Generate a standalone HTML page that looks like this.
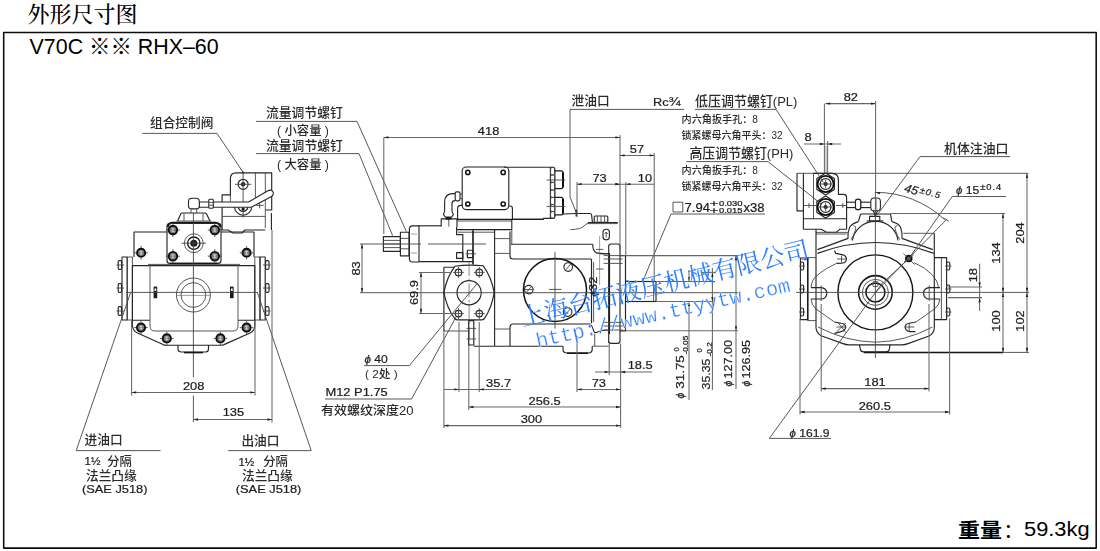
<!DOCTYPE html>
<html lang="zh-CN"><head><meta charset="utf-8"><title>外形尺寸图 V70C RHX-60</title>
<style>
html,body{margin:0;padding:0;background:#fff}
body{width:1100px;height:551px;overflow:hidden}
svg{display:block}
text{font-family:"Liberation Sans","Noto Sans CJK SC",sans-serif;fill:#1a1a1a}
.n{fill:#1c1c1c;stroke:#1c1c1c;stroke-width:.22}
.k{fill:#2a2a2a;font-family:"Liberation Sans","Noto Sans CJK SC",sans-serif;font-weight:500}
.ttl{font-family:"Liberation Serif","Noto Serif CJK SC",serif;fill:#000;font-weight:500}
.wt{font-family:"Liberation Sans","Noto Sans CJK SC",sans-serif;fill:#000}
.wm{font-family:"Liberation Serif","Noto Serif CJK SC",serif;fill:#2f80ff;font-weight:400}
.wm2{font-family:"Liberation Mono",monospace;fill:#2f80ff;stroke:#fff;stroke-width:.3}
line,polyline,polygon,path,rect,circle{fill:none;stroke:#2b2b2b;stroke-width:.9;stroke-linecap:butt;stroke-linejoin:round}
.t{stroke:#454545;stroke-width:.9}
.d{stroke:#666964;stroke-width:1.05}
.c{stroke:#555;stroke-width:.7;stroke-dasharray:14 2.5 2.5 2.5}
.o{stroke:#262626;stroke-width:1.15}
.h{stroke:#151515;stroke-width:1.55}
.hh{stroke:#111;stroke-width:1.9}
.h2{stroke:#181818;stroke-width:1.4}
.o2{stroke:#1c1c1c;stroke-width:1.35}
.fr{stroke:#0c0c0c;stroke-width:1.55}
.a{fill:#222;stroke:none}
.bo{fill:#777;stroke:#111;stroke-width:1.9}
.bx{stroke:#e6e6e6;stroke-width:.7}
.bi{fill:#bdbdbd;stroke:none}
.bk{fill:#1a1a1a;stroke:none}
.wf{fill:#fff}
.g{stroke:#777;stroke-width:.7}
</style></head>
<body>
<svg width="1100" height="551" viewBox="0 0 1100 551">
<defs><filter id="soft" x="0" y="0" width="1100" height="551" filterUnits="userSpaceOnUse"><feGaussianBlur stdDeviation="0.32"/></filter></defs>
<rect x="0" y="0" width="1100" height="551" style="fill:#fff;stroke:none"/>
<g id="frame">
<rect class="fr" x="3.7" y="32.4" width="1092.5" height="515.7"/>
<text class="ttl" transform="translate(27.6 22.2)" font-size="22">外形尺寸图</text>
<text class="wt" transform="translate(29.6 53.6)" font-size="21.4">V70C ※※ RHX–60</text>
<text class="wt" transform="translate(958 537.8) scale(1.08 1)" font-size="20.4" font-weight="700">重量</text>
<text class="wt" transform="translate(1003.2 537.8)" font-size="20.4">：</text>
<text class="wt" transform="translate(1024 536.4) scale(1.12 1)" font-size="19.5">59.3kg</text>
</g>
<g id="left-view" filter="url(#soft)">
<path class="o" d="M222.1,230 V194.8 H230.4 V178.6 Q230.4,172.8 236.2,172.8 H271.7 V210 H265.3"/>
<line class="t" x1="255.4" y1="172.8" x2="255.4" y2="201"/>
<line class="t" x1="265.3" y1="172.8" x2="265.3" y2="228"/>
<line class="t" x1="222.1" y1="216.4" x2="265.3" y2="216.4"/>
<path class="o" d="M222.1,230 H228 L233,233 H242 L245,230 H265.3"/>
<line class="t" x1="230.4" y1="194.8" x2="230.4" y2="201.6"/>
<line class="o" x1="271.4" y1="213" x2="271.4" y2="230"/>
<circle class="o" cx="243.1" cy="184.3" r="5"/>
<circle class="bk" cx="243.1" cy="184.3" r="2.2"/>
<line class="t" x1="235" y1="184.3" x2="251.4" y2="184.3"/>
<line class="t" x1="243.1" y1="172.8" x2="243.1" y2="217.4"/>
<path class="o" d="M234.5,206.6 A8.6,8.6 0 0 0 251.7,206.6"/>
<path class="o" d="M238.3,206.6 A4.8,4.8 0 0 0 247.9,206.6"/>
<circle class="bk" cx="243.1" cy="209" r="1.6"/>
<line class="t" x1="256.4" y1="205.4" x2="263.6" y2="205.4"/>
<line class="t" x1="259.6" y1="202.4" x2="259.6" y2="208.4"/>
<path d="M199.3,202 H248.6 L268,190.8 Q271.6,189 273,192 Q274.2,195 271,196.8 L251.4,207.2 H199.3 Z" style="fill:#fff;stroke:#262626;stroke-width:1.1"/>
<rect x="208.8" y="199.3" width="4.5" height="8.9" rx="1" style="fill:#fff;stroke:#262626;stroke-width:1.1"/>
<line class="t" x1="208.8" y1="202.4" x2="213.3" y2="202.4"/>
<line class="t" x1="208.8" y1="205.2" x2="213.3" y2="205.2"/>
<rect x="188.5" y="198.3" width="10.8" height="10.6" rx="3.2" style="fill:#fff;stroke:#262626;stroke-width:1.1"/>
<line class="t" x1="191" y1="208.9" x2="191" y2="213"/>
<line class="t" x1="196.7" y1="208.9" x2="196.7" y2="213"/>
<path class="o" d="M177.7,220.9 L180.9,213.6 Q181.2,213 182.4,213 H204.8 Q206,213 206.3,213.6 L210,220.9"/>
<line class="t" x1="184" y1="213.6" x2="184" y2="220.9"/>
<line class="t" x1="203" y1="213.6" x2="203" y2="220.9"/>
<line class="t" x1="176.4" y1="221" x2="211.4" y2="221"/>
<path class="hh" d="M167.6,227 Q168.4,222.8 173,222.8 H215 Q219.4,222.8 220.4,227"/>
<rect class="o" x="167" y="223.4" width="54" height="40" rx="3"/>
<line class="h" x1="170" y1="263.4" x2="218" y2="263.4"/>
<circle class="bo" cx="172.9" cy="230" r="4.3"/>
<line class="bx" x1="171.4" y1="228.8" x2="174.4" y2="228.8"/>
<line class="bx" x1="171.4" y1="231.2" x2="174.4" y2="231.2"/>
<line class="bx" x1="172.9" y1="227.8" x2="172.9" y2="232.2"/>
<line class="t" x1="178.1" y1="230" x2="179.9" y2="230"/>
<line class="t" x1="167.7" y1="230" x2="165.9" y2="230"/>
<line class="t" x1="172.9" y1="235.2" x2="172.9" y2="237"/>
<line class="t" x1="172.9" y1="224.8" x2="172.9" y2="223"/>
<circle class="bo" cx="214.8" cy="230" r="4.3"/>
<line class="bx" x1="213.3" y1="228.8" x2="216.3" y2="228.8"/>
<line class="bx" x1="213.3" y1="231.2" x2="216.3" y2="231.2"/>
<line class="bx" x1="214.8" y1="227.8" x2="214.8" y2="232.2"/>
<line class="t" x1="220" y1="230" x2="221.8" y2="230"/>
<line class="t" x1="209.6" y1="230" x2="207.8" y2="230"/>
<line class="t" x1="214.8" y1="235.2" x2="214.8" y2="237"/>
<line class="t" x1="214.8" y1="224.8" x2="214.8" y2="223"/>
<circle class="bo" cx="172.9" cy="256.2" r="4.3"/>
<line class="bx" x1="171.4" y1="255" x2="174.4" y2="255"/>
<line class="bx" x1="171.4" y1="257.4" x2="174.4" y2="257.4"/>
<line class="bx" x1="172.9" y1="254" x2="172.9" y2="258.4"/>
<line class="t" x1="178.1" y1="256.2" x2="179.9" y2="256.2"/>
<line class="t" x1="167.7" y1="256.2" x2="165.9" y2="256.2"/>
<line class="t" x1="172.9" y1="261.4" x2="172.9" y2="263.2"/>
<line class="t" x1="172.9" y1="251" x2="172.9" y2="249.2"/>
<circle class="bo" cx="214.8" cy="256.2" r="4.3"/>
<line class="bx" x1="213.3" y1="255" x2="216.3" y2="255"/>
<line class="bx" x1="213.3" y1="257.4" x2="216.3" y2="257.4"/>
<line class="bx" x1="214.8" y1="254" x2="214.8" y2="258.4"/>
<line class="t" x1="220" y1="256.2" x2="221.8" y2="256.2"/>
<line class="t" x1="209.6" y1="256.2" x2="207.8" y2="256.2"/>
<line class="t" x1="214.8" y1="261.4" x2="214.8" y2="263.2"/>
<line class="t" x1="214.8" y1="251" x2="214.8" y2="249.2"/>
<circle class="t" cx="193.8" cy="243.2" r="9.4"/>
<circle class="o2" cx="193.8" cy="243.2" r="6.2"/>
<circle class="bk" cx="193.8" cy="243.2" r="3.5"/>
<line class="t" x1="181.6" y1="243.2" x2="206" y2="243.2"/>
<polyline class="o" points="167,232 134,232 134,257"/>
<polyline class="o" points="221,232 254,232 254,257"/>
<circle class="bo" cx="141.1" cy="252.8" r="4.1"/>
<line class="bx" x1="139.6" y1="251.6" x2="142.6" y2="251.6"/>
<line class="bx" x1="139.6" y1="254" x2="142.6" y2="254"/>
<line class="bx" x1="141.1" y1="250.6" x2="141.1" y2="255"/>
<line class="t" x1="146.1" y1="252.8" x2="147.9" y2="252.8"/>
<line class="t" x1="136.1" y1="252.8" x2="134.3" y2="252.8"/>
<line class="t" x1="141.1" y1="257.8" x2="141.1" y2="259.6"/>
<line class="t" x1="141.1" y1="247.8" x2="141.1" y2="246"/>
<circle class="bo" cx="246.6" cy="252.8" r="4.1"/>
<line class="bx" x1="245.1" y1="251.6" x2="248.1" y2="251.6"/>
<line class="bx" x1="245.1" y1="254" x2="248.1" y2="254"/>
<line class="bx" x1="246.6" y1="250.6" x2="246.6" y2="255"/>
<line class="t" x1="251.6" y1="252.8" x2="253.4" y2="252.8"/>
<line class="t" x1="241.6" y1="252.8" x2="239.8" y2="252.8"/>
<line class="t" x1="246.6" y1="257.8" x2="246.6" y2="259.6"/>
<line class="t" x1="246.6" y1="247.8" x2="246.6" y2="246"/>
<rect class="o" x="122" y="257" width="5.2" height="63"/>
<rect class="t" x="127.2" y="257" width="5.2" height="63"/>
<rect class="t" x="254.8" y="257" width="5.2" height="63"/>
<rect class="o" x="260" y="257" width="5.2" height="63"/>
<rect class="o" x="118.2" y="260.6" width="3.4" height="8.8" rx="1.2"/>
<rect class="o" x="265.6" y="260.6" width="3.4" height="8.8" rx="1.2"/>
<line class="t" x1="116.5" y1="265" x2="124" y2="265"/>
<line class="t" x1="263" y1="265" x2="270.6" y2="265"/>
<rect class="o" x="118.2" y="283.6" width="3.4" height="8.8" rx="1.2"/>
<rect class="o" x="265.6" y="283.6" width="3.4" height="8.8" rx="1.2"/>
<line class="t" x1="116.5" y1="288" x2="124" y2="288"/>
<line class="t" x1="263" y1="288" x2="270.6" y2="288"/>
<rect class="o" x="118.2" y="306.6" width="3.4" height="8.8" rx="1.2"/>
<rect class="o" x="265.6" y="306.6" width="3.4" height="8.8" rx="1.2"/>
<line class="t" x1="116.5" y1="311" x2="124" y2="311"/>
<line class="t" x1="263" y1="311" x2="270.6" y2="311"/>
<path class="o" d="M150,320.2 H132.4 V265.6 H254.8 V320.2 H238"/>
<path class="t" d="M150,265 V326 Q150,331 155,331 H233 Q238,331 238,326 V265"/>
<line class="t" x1="148" y1="264.4" x2="240" y2="264.4"/>
<circle class="t" cx="193.4" cy="295" r="17"/>
<circle class="t" cx="193.4" cy="295" r="12.4"/>
<line class="g" x1="176" y1="295.4" x2="211" y2="295.4"/>
<rect class="bk" x="153.6" y="286.6" width="3.6" height="11.6"/>
<rect class="bk" x="230" y="286.6" width="3.6" height="11.6"/>
<rect x="154.5" y="288.5" width="1.8" height="2.4" style="fill:#fff;stroke:none"/>
<rect x="230.9" y="288.5" width="1.8" height="2.4" style="fill:#fff;stroke:none"/>
<line class="t" x1="126" y1="292.4" x2="258" y2="292.4"/>
<line class="t" x1="193.4" y1="213" x2="193.4" y2="377.4"/>
<line class="t" x1="193.4" y1="395.6" x2="193.4" y2="422"/>
<path class="o" d="M132.4,320 V326 Q133,331 137.5,333 L163,344.6 Q164.5,345.2 166,345.2 H221 Q222.5,345.2 224,344.6 L250,333 Q254.5,331 254.8,326 V320"/>
<circle class="bo" cx="141" cy="327.6" r="4.1"/>
<line class="bx" x1="139.5" y1="326.4" x2="142.5" y2="326.4"/>
<line class="bx" x1="139.5" y1="328.8" x2="142.5" y2="328.8"/>
<line class="bx" x1="141" y1="325.4" x2="141" y2="329.8"/>
<line class="t" x1="146" y1="327.6" x2="147.8" y2="327.6"/>
<line class="t" x1="136" y1="327.6" x2="134.2" y2="327.6"/>
<line class="t" x1="141" y1="332.6" x2="141" y2="334.4"/>
<line class="t" x1="141" y1="322.6" x2="141" y2="320.8"/>
<circle class="bo" cx="246.6" cy="327.6" r="4.1"/>
<line class="bx" x1="245.1" y1="326.4" x2="248.1" y2="326.4"/>
<line class="bx" x1="245.1" y1="328.8" x2="248.1" y2="328.8"/>
<line class="bx" x1="246.6" y1="325.4" x2="246.6" y2="329.8"/>
<line class="t" x1="251.6" y1="327.6" x2="253.4" y2="327.6"/>
<line class="t" x1="241.6" y1="327.6" x2="239.8" y2="327.6"/>
<line class="t" x1="246.6" y1="332.6" x2="246.6" y2="334.4"/>
<line class="t" x1="246.6" y1="322.6" x2="246.6" y2="320.8"/>
<circle class="bo" cx="166.8" cy="338.4" r="4.1"/>
<line class="bx" x1="165.3" y1="337.2" x2="168.3" y2="337.2"/>
<line class="bx" x1="165.3" y1="339.6" x2="168.3" y2="339.6"/>
<line class="bx" x1="166.8" y1="336.2" x2="166.8" y2="340.6"/>
<line class="t" x1="171.8" y1="338.4" x2="173.6" y2="338.4"/>
<line class="t" x1="161.8" y1="338.4" x2="160" y2="338.4"/>
<line class="t" x1="166.8" y1="343.4" x2="166.8" y2="345.2"/>
<line class="t" x1="166.8" y1="333.4" x2="166.8" y2="331.6"/>
<circle class="bo" cx="220.4" cy="338.4" r="4.1"/>
<line class="bx" x1="218.9" y1="337.2" x2="221.9" y2="337.2"/>
<line class="bx" x1="218.9" y1="339.6" x2="221.9" y2="339.6"/>
<line class="bx" x1="220.4" y1="336.2" x2="220.4" y2="340.6"/>
<line class="t" x1="225.4" y1="338.4" x2="227.2" y2="338.4"/>
<line class="t" x1="215.4" y1="338.4" x2="213.6" y2="338.4"/>
<line class="t" x1="220.4" y1="343.4" x2="220.4" y2="345.2"/>
<line class="t" x1="220.4" y1="333.4" x2="220.4" y2="331.6"/>
<path class="o" d="M178,345.2 V349 Q178,352 181.5,352 H205.5 Q208.5,352 208.5,349 V345.2"/>
<line class="h" x1="184" y1="352.6" x2="203" y2="352.6"/>
<polyline class="t" points="130.6,292.6 76.2,450.6 160.6,450.6"/>
<polyline class="t" points="257.4,292.6 311.2,450.6 228.2,450.6"/>
<polyline class="t" points="142.4,133.4 217,133.4 243,172.2"/>
<circle class="bk" cx="243" cy="172.4" r="0.9"/>
<line class="d" x1="131.6" y1="320" x2="131.6" y2="395.5"/>
<line class="d" x1="255" y1="320" x2="255" y2="395.5"/>
<line class="d" x1="131.6" y1="392.4" x2="255" y2="392.4"/>
<polygon class="a" points="131.6,392.4 136.2,391.25 136.2,393.55"/>
<polygon class="a" points="255,392.4 250.4,393.55 250.4,391.25"/>
<line class="d" x1="272" y1="230" x2="272" y2="422.5"/>
<line class="d" x1="193.4" y1="419.5" x2="272" y2="419.5"/>
<polygon class="a" points="193.4,419.5 198,418.35 198,420.65"/>
<polygon class="a" points="272,419.5 267.4,420.65 267.4,418.35"/>
</g>
<g id="side-view" filter="url(#soft)">
<rect class="o" x="383.4" y="236.6" width="17" height="14.8"/>
<line class="t" x1="383.4" y1="240.4" x2="400.4" y2="240.4"/>
<line class="t" x1="383.4" y1="244" x2="400.4" y2="244"/>
<line class="t" x1="383.4" y1="247.6" x2="400.4" y2="247.6"/>
<rect class="o" x="400.4" y="232.2" width="8.6" height="23.6"/>
<line class="t" x1="400.4" y1="238.4" x2="409" y2="238.4"/>
<line class="t" x1="400.4" y1="248.8" x2="409" y2="248.8"/>
<path class="o" d="M419,225.8 H412.4 Q409.4,225.8 409.4,229 V258.8 Q409.4,262 412.4,262 H419"/>
<line class="o" x1="419" y1="225.8" x2="419" y2="262"/>
<line class="g" x1="411" y1="234" x2="417" y2="234"/>
<line class="g" x1="411" y1="253" x2="417" y2="253"/>
<line class="o" x1="419" y1="225.8" x2="441.2" y2="225.8"/>
<line class="o" x1="419" y1="261.6" x2="473" y2="261.6"/>
<path class="o" d="M441.2,226.6 V218.8 H457 V227"/>
<line class="t" x1="448.8" y1="219" x2="448.8" y2="226.6"/>
<path class="o" d="M444.6,211.4 V202 Q444.6,193.6 453,193.6 H455.2"/>
<path class="o" d="M452,211.4 V203.4 Q452,200.6 455.2,200.6"/>
<rect class="o" x="455.2" y="191.8" width="4.8" height="9" rx="1.5"/>
<line class="t" x1="460" y1="194" x2="462" y2="194"/>
<line class="t" x1="460" y1="198.6" x2="462" y2="198.6"/>
<path class="o" d="M444.6,211.4 L443.4,214.4 L445.2,217 H451.8 L453.4,214.4 L452,211.4"/>
<rect class="bk" x="445.6" y="217" width="5.8" height="2.6"/>
<rect class="o" x="462.2" y="167" width="46.6" height="42.6" rx="4"/>
<circle class="h" cx="467.8" cy="172.4" r="2.1"/>
<circle class="h" cx="503.2" cy="172.4" r="2.1"/>
<circle class="h" cx="467.8" cy="204" r="2.1"/>
<circle class="h" cx="503.2" cy="204" r="2.1"/>
<path class="o" d="M504,167.2 H550.4 V218.4 H543.4 V219.3 H512.4"/>
<path class="o" d="M457.6,219.3 V208.6 Q457.6,205.4 460.8,205.4 H462.4"/>
<path class="o" d="M508.8,206 H510.4 Q512.4,206 512.4,208.6 V219.3"/>
<path class="o" d="M550.4,167.2 H553 Q554.8,167.2 554.8,169 V217 Q554.8,218.4 553,218.4 H550.4"/>
<rect class="t" x="550.6" y="167.4" width="4.2" height="7.6" rx="1.6"/>
<rect class="t" x="550.6" y="175" width="4.2" height="7.4" rx="1.6"/>
<rect class="t" x="550.6" y="182.4" width="4.2" height="7.6" rx="1.6"/>
<rect class="t" x="550.6" y="190" width="4.2" height="7.4" rx="1.6"/>
<rect class="t" x="550.6" y="197.4" width="4.2" height="7.2" rx="1.6"/>
<rect class="t" x="550.6" y="204.6" width="4.2" height="7" rx="1.6"/>
<rect class="t" x="550.6" y="211.6" width="4.2" height="6.6" rx="1.6"/>
<path class="o2" d="M554.8,170.8 H561 Q563,170.8 563,172.8 V186.6 Q563,188.6 561,188.6 H554.8"/>
<line class="hh" x1="563" y1="172.4" x2="563" y2="187"/>
<line class="t" x1="546.6" y1="180" x2="565.4" y2="180"/>
<path class="o2" d="M554.8,197.4 H561 Q563,197.4 563,199.4 V212.8 Q563,214.8 561,214.8 H554.8"/>
<line class="hh" x1="563" y1="199" x2="563" y2="213.2"/>
<line class="t" x1="546.6" y1="206.4" x2="565.4" y2="206.4"/>
<line class="o2" x1="457" y1="219.4" x2="543" y2="219.4"/>
<line class="t" x1="457" y1="221" x2="511.8" y2="221"/>
<line class="o2" x1="457" y1="229.6" x2="511.8" y2="229.6"/>
<line class="o" x1="511.8" y1="219.4" x2="511.8" y2="229.6"/>
<path class="o" d="M456.6,227 V234.6 H462.8 V261.6"/>
<line class="t" x1="457.8" y1="232.2" x2="494.6" y2="232.2"/>
<line class="h" x1="473" y1="230.2" x2="473" y2="264.6"/>
<rect class="o" x="456.6" y="252.6" width="6.2" height="5.8"/>
<rect class="o" x="467.4" y="250.2" width="5.6" height="7.4"/>
<line class="t" x1="465.6" y1="253.8" x2="476" y2="253.8"/>
<line class="o" x1="494.6" y1="230" x2="494.6" y2="346"/>
<path class="o" d="M510,231.6 V256 Q510,259 513,259 H591.4"/>
<line class="t" x1="494.6" y1="238.6" x2="510" y2="238.6"/>
<line class="t" x1="494.6" y1="253.4" x2="510" y2="253.4"/>
<line class="o" x1="511" y1="244.2" x2="592.8" y2="244.2"/>
<line class="t" x1="511.8" y1="229.6" x2="511.8" y2="244.2"/>
<path class="o" d="M563,214 Q568,213.5 576.4,213.5 H590 Q591.4,213.5 591.6,215 L592.4,222.4"/>
<rect class="o" x="594.2" y="216" width="13.6" height="6.4" rx="1"/>
<line class="t" x1="597.4" y1="216" x2="597.4" y2="222.4"/>
<line class="t" x1="601" y1="216" x2="601" y2="222.4"/>
<line class="t" x1="604.6" y1="216" x2="604.6" y2="222.4"/>
<line class="o" x1="587.8" y1="222.6" x2="617.8" y2="222.6"/>
<line class="t" x1="587.8" y1="223.6" x2="617.8" y2="223.6"/>
<path class="t" d="M570.4,229.6 Q581,229.4 584,226 Q586,223.6 588.4,223.4"/>
<rect class="o" x="603" y="229.2" width="6.4" height="10.6" rx="3"/>
<path class="t" d="M606.2,237.6 V232.4 M604.6,234 L606.2,232 L607.8,234"/>
<path class="o" d="M592.8,244.2 Q592.6,250.6 596,252.6 Q599,253.8 608.7,253.8"/>
<line class="o" x1="591.5" y1="259" x2="591.5" y2="323.2"/>
<line class="t" x1="593.6" y1="262" x2="593.6" y2="322"/>
<circle class="h" cx="555" cy="290" r="31.5"/>
<line class="t" x1="555" y1="252" x2="555" y2="328.6"/>
<line class="t" x1="549" y1="289.4" x2="561.4" y2="289.4"/>
<circle class="o" cx="568.2" cy="267" r="4.3"/>
<line class="t" x1="565.6" y1="270" x2="570.8" y2="264"/>
<circle class="o" cx="528.8" cy="289.6" r="4.3"/>
<line class="t" x1="526.2" y1="292.6" x2="531.4" y2="286.6"/>
<circle class="o" cx="567.6" cy="312" r="4.3"/>
<line class="t" x1="565" y1="315" x2="570.2" y2="309"/>
<line class="t" x1="524" y1="289.6" x2="533.6" y2="289.6"/>
<path class="o" d="M510,346 V327 Q510,324 513,324 H589.6"/>
<line class="t" x1="494.6" y1="329" x2="510" y2="329"/>
<path class="o" d="M589.6,323.4 Q592.6,326 593.6,330.6 Q594.4,333.8 597.6,332 Q601,330 608.7,330"/>
<line class="o" x1="473.8" y1="346.2" x2="563" y2="346.2"/>
<path class="o" d="M563,346.2 V349.6 Q563,353 567,353 H588 Q592.2,353 592.2,349.6 V346.2"/>
<line class="h" x1="567" y1="353.2" x2="588" y2="353.2"/>
<line class="t" x1="594.7" y1="333.6" x2="594.7" y2="346"/>
<line class="t" x1="592.2" y1="346.2" x2="608.7" y2="346.2"/>
<path class="o" d="M608.7,343 V246.6 Q608.7,244 611,244 H617.6 Q620,244 620,246.6 V341 Q620,343.4 617.6,343.4 H611 Q608.7,343.4 608.7,341"/>
<line class="o2" x1="609.4" y1="253" x2="609.4" y2="334"/>
<path class="o" d="M620,255.7 H625.5 V330.8 H620"/>
<line class="t" x1="603.6" y1="255.6" x2="622.7" y2="255.6"/>
<line class="t" x1="603.6" y1="259" x2="622.7" y2="259"/>
<line class="t" x1="603.6" y1="263.4" x2="622.7" y2="263.4"/>
<line class="t" x1="603.6" y1="322.4" x2="622.7" y2="322.4"/>
<line class="t" x1="603.6" y1="326" x2="622.7" y2="326"/>
<line class="t" x1="603.6" y1="330" x2="622.7" y2="330"/>
<line class="g" x1="599.6" y1="236" x2="599.6" y2="285"/>
<line class="t" x1="596" y1="249.4" x2="603.4" y2="249.4"/>
<line class="t" x1="596" y1="269" x2="603.4" y2="269"/>
<line class="o" x1="625.5" y1="281.5" x2="656" y2="281.5"/>
<line class="o" x1="625.5" y1="301.5" x2="656" y2="301.5"/>
<line class="o" x1="656" y1="281.5" x2="656" y2="301.5"/>
<line class="t" x1="653.6" y1="281.5" x2="653.6" y2="301.5"/>
<path class="o" d="M443.9,267.2 H454 M455,266.2 Q468.6,264.2 483.2,265.8 Q491.6,277 494.2,292.7 Q491.6,308 484.6,318.4 Q483.8,319.8 481.8,319.8 H457.4 Q455.4,319.8 454.6,318.4 Q446.8,308 443.9,292.7 Q446.8,277 455,266.2"/>
<line class="o" x1="443.9" y1="267.2" x2="443.9" y2="331"/>
<line class="t" x1="443.9" y1="331" x2="468.7" y2="331"/>
<circle class="o" cx="469.1" cy="292.7" r="12.1"/>
<circle class="o" cx="458.5" cy="272.4" r="3.3"/>
<line class="t" x1="453.1" y1="272.4" x2="463.9" y2="272.4"/>
<line class="t" x1="458.5" y1="267" x2="458.5" y2="277.8"/>
<circle class="o" cx="479.3" cy="272.4" r="3.3"/>
<line class="t" x1="473.9" y1="272.4" x2="484.7" y2="272.4"/>
<line class="t" x1="479.3" y1="267" x2="479.3" y2="277.8"/>
<circle class="o" cx="458.5" cy="313.6" r="3.3"/>
<line class="t" x1="453.1" y1="313.6" x2="463.9" y2="313.6"/>
<line class="t" x1="458.5" y1="308.2" x2="458.5" y2="319"/>
<circle class="o" cx="479.3" cy="313.6" r="3.3"/>
<line class="t" x1="473.9" y1="313.6" x2="484.7" y2="313.6"/>
<line class="t" x1="479.3" y1="308.2" x2="479.3" y2="319"/>
<circle class="bk" cx="443.9" cy="292.7" r="1"/>
<circle class="bk" cx="494.2" cy="292.7" r="1"/>
<line class="c" x1="469.1" y1="262" x2="469.1" y2="346"/>
<rect class="o" x="468.7" y="320.6" width="5.1" height="24.4"/>
<line class="t" x1="466.6" y1="328.4" x2="476" y2="328.4"/>
<line class="t" x1="466.6" y1="339" x2="476" y2="339"/>
<line class="t" x1="360" y1="244" x2="421" y2="244"/>
<line class="t" x1="428" y1="244" x2="486" y2="244"/>
<line class="t" x1="360" y1="292.7" x2="436" y2="292.7"/>
<line class="t" x1="436" y1="292.7" x2="738" y2="292.7"/>
<polyline class="t" points="256,121.4 357,121.4 406.4,231.6"/>
<polyline class="t" points="256,153.6 359,153.6 392.6,235.6"/>
<polyline class="t" points="364,365.6 409.4,365.6 477,283.8"/>
<polyline class="t" points="325,399 411.6,399 456,317"/>
<polyline class="t" points="684,109.4 570,109.4 570,197 576.4,212.8"/>
<line class="h" x1="576.4" y1="209.6" x2="576.4" y2="216.4"/>
<polyline class="t" points="765,214 671,214 644.4,277.4 642.4,282"/>
<line class="d" x1="383.8" y1="137.4" x2="383.8" y2="234"/>
<line class="d" x1="620" y1="135" x2="620" y2="250"/>
<line class="d" x1="383.8" y1="137.4" x2="620" y2="137.4"/>
<polygon class="a" points="383.8,137.4 388.4,136.25 388.4,138.55"/>
<polygon class="a" points="620,137.4 615.4,138.55 615.4,136.25"/>
<line class="d" x1="654.2" y1="153" x2="654.2" y2="281.5"/>
<line class="d" x1="620" y1="155.4" x2="654.2" y2="155.4"/>
<polygon class="a" points="620,155.4 624.6,154.25 624.6,156.55"/>
<polygon class="a" points="654.2,155.4 649.6,156.55 649.6,154.25"/>
<line class="d" x1="577" y1="182" x2="577" y2="217"/>
<line class="d" x1="625.8" y1="182" x2="625.8" y2="255.7"/>
<line class="d" x1="577" y1="184.2" x2="620" y2="184.2"/>
<polygon class="a" points="577,184.2 581.6,183.05 581.6,185.35"/>
<polygon class="a" points="620,184.2 615.4,185.35 615.4,183.05"/>
<line class="d" x1="620" y1="184.2" x2="654.2" y2="184.2"/>
<polygon class="a" points="620,184.2 615.4,185.35 615.4,183.05"/>
<polygon class="a" points="625.8,184.2 630.4,183.05 630.4,185.35"/>
<line class="d" x1="362" y1="244" x2="362" y2="292.7"/>
<polygon class="a" points="362,244 363.15,248.6 360.85,248.6"/>
<polygon class="a" points="362,292.7 360.85,288.1 363.15,288.1"/>
<line class="d" x1="419" y1="272.5" x2="452" y2="272.5"/>
<line class="d" x1="419" y1="313.4" x2="453.5" y2="313.4"/>
<line class="d" x1="421" y1="272.5" x2="421" y2="313.4"/>
<polygon class="a" points="421,272.5 422.15,277.1 419.85,277.1"/>
<polygon class="a" points="421,313.4 419.85,308.8 422.15,308.8"/>
<line class="d" x1="443.9" y1="331" x2="443.9" y2="428"/>
<line class="d" x1="459" y1="322" x2="459" y2="392"/>
<line class="d" x1="479.2" y1="322" x2="479.2" y2="392"/>
<line class="d" x1="468.8" y1="345" x2="468.8" y2="410"/>
<line class="d" x1="443.9" y1="389.4" x2="511" y2="389.4"/>
<polygon class="a" points="459,389.4 454.4,390.55 454.4,388.25"/>
<polygon class="a" points="479.2,389.4 483.8,388.25 483.8,390.55"/>
<line class="d" x1="577" y1="336" x2="577" y2="392"/>
<line class="d" x1="620.6" y1="343.4" x2="620.6" y2="428"/>
<line class="d" x1="577" y1="389.4" x2="620.6" y2="389.4"/>
<polygon class="a" points="577,389.4 581.6,388.25 581.6,390.55"/>
<polygon class="a" points="620.6,389.4 616,390.55 616,388.25"/>
<line class="d" x1="468.8" y1="407" x2="620.6" y2="407"/>
<polygon class="a" points="468.8,407 473.4,405.85 473.4,408.15"/>
<polygon class="a" points="620.6,407 616,408.15 616,405.85"/>
<line class="d" x1="443.9" y1="425.6" x2="620.6" y2="425.6"/>
<polygon class="a" points="443.9,425.6 448.5,424.45 448.5,426.75"/>
<polygon class="a" points="620.6,425.6 616,426.75 616,424.45"/>
<line class="d" x1="609.2" y1="343.4" x2="609.2" y2="375"/>
<line class="d" x1="595" y1="372" x2="652" y2="372"/>
<polygon class="a" points="609.2,372 604.6,373.15 604.6,370.85"/>
<polygon class="a" points="620.6,372 625.2,370.85 625.2,373.15"/>
<line class="d" x1="656" y1="281.5" x2="715" y2="281.5"/>
<line class="d" x1="656" y1="301.5" x2="715" y2="301.5"/>
<line class="d" x1="625.5" y1="255.6" x2="738" y2="255.6"/>
<line class="d" x1="625.5" y1="330.8" x2="738" y2="330.8"/>
<line class="d" x1="689" y1="301.5" x2="689" y2="400"/>
<polygon class="a" points="689,281.5 687.85,276.9 690.15,276.9"/>
<polygon class="a" points="689,301.5 690.15,306.1 687.85,306.1"/>
<line class="d" x1="689" y1="270" x2="689" y2="281.5"/>
<line class="d" x1="712.4" y1="268" x2="712.4" y2="390"/>
<polygon class="a" points="712.4,272.4 713.55,277 711.25,277"/>
<polygon class="a" points="712.4,301.5 711.25,296.9 713.55,296.9"/>
<line class="d" x1="702" y1="272.4" x2="716" y2="272.4"/>
<line class="d" x1="736" y1="255.6" x2="736" y2="389"/>
<polygon class="a" points="736,255.6 737.15,260.2 734.85,260.2"/>
<polygon class="a" points="736,330.8 734.85,326.2 737.15,326.2"/>
</g>
<g id="shaft-end-view" filter="url(#soft)">
<line class="t" x1="797" y1="173.3" x2="1028.4" y2="173.3"/>
<path class="o" d="M803.4,210.8 H797 V173.3"/>
<line class="o" x1="803.4" y1="173.3" x2="803.4" y2="229.2"/>
<line class="t" x1="813.5" y1="173.3" x2="813.5" y2="218.6"/>
<path class="o" d="M813.5,173.3 H832 Q838.4,173.3 838.4,180 V194.3 H843.6 Q846.6,194.3 846.6,197.4 V229.2"/>
<line class="o" x1="803.4" y1="218.7" x2="846.6" y2="218.7"/>
<path class="o" d="M803.4,229.2 H821.2 L826.6,232.2 H836.6 L839.8,229.2 H846.6"/>
<line class="t" x1="816" y1="234" x2="846.6" y2="234"/>
<line class="t" x1="804" y1="205.5" x2="816" y2="205.5"/>
<line class="t" x1="836" y1="205.5" x2="846.6" y2="205.5"/>
<line class="t" x1="809" y1="203" x2="809" y2="208"/>
<line class="t" x1="842.8" y1="203" x2="842.8" y2="208"/>
<polygon class="o" points="825.6,194.9 816.82,189.45 816.82,178.55 825.6,173.1 834.38,178.55 834.38,189.45"/>
<circle class="hh" cx="825.6" cy="184" r="8.1"/>
<circle class="o" cx="825.6" cy="184" r="5.4"/>
<circle class="bk" cx="825.6" cy="184" r="2.1"/>
<line class="t" x1="819" y1="184" x2="832.4" y2="184"/>
<line class="t" x1="825.6" y1="180" x2="825.6" y2="188"/>
<polygon class="o" points="825.6,217.9 816.82,212.45 816.82,201.55 825.6,196.1 834.38,201.55 834.38,212.45"/>
<circle class="hh" cx="825.6" cy="207" r="8.1"/>
<circle class="o" cx="825.6" cy="207" r="5.4"/>
<circle class="bk" cx="825.6" cy="207" r="2.1"/>
<line class="t" x1="819" y1="207" x2="832.4" y2="207"/>
<line class="t" x1="825.6" y1="203" x2="825.6" y2="211"/>
<line class="o" x1="846.6" y1="202.2" x2="870.8" y2="202.2"/>
<line class="o" x1="846.6" y1="207.6" x2="870.8" y2="207.6"/>
<rect class="o" x="855.5" y="199.4" width="5.2" height="10.2" rx="2"/>
<rect x="855.5" y="199.4" width="5.2" height="10.2" rx="2" style="fill:#fff;stroke:#262626;stroke-width:1.1"/>
<rect x="870.8" y="198" width="9.6" height="12.8" rx="3.4" style="fill:#fff;stroke:#262626;stroke-width:1.1"/>
<line class="g" x1="876.6" y1="199" x2="876.6" y2="210"/>
<path class="o" d="M873.4,210.8 L875.4,216.2 L877.4,210.8"/>
<polyline class="t" points="695,109.4 776,109.4 823.4,182.6"/>
<polyline class="t" points="686.6,161.6 768,161.6 822,204.6"/>
<line class="d" x1="824.4" y1="103.6" x2="824.4" y2="173.3"/>
<line class="d" x1="827.6" y1="141" x2="827.6" y2="173.3"/>
<line class="g" x1="826" y1="146" x2="826" y2="173"/>
<line class="d" x1="804" y1="144" x2="841" y2="144"/>
<polygon class="a" points="824.4,144 819.8,145.15 819.8,142.85"/>
<polygon class="a" points="827.6,144 832.2,142.85 832.2,145.15"/>
<line class="d" x1="875.6" y1="101" x2="875.6" y2="192"/>
<line class="d" x1="825.6" y1="103.6" x2="875.6" y2="103.6"/>
<polygon class="a" points="825.6,103.6 830.2,102.45 830.2,104.75"/>
<polygon class="a" points="875.6,103.6 871,104.75 871,102.45"/>
<path class="o" d="M860.6,214 H890.5 L891.8,221.6"/>
<path class="o" d="M860.6,214 L858.4,221.6"/>
<rect class="o" x="869.6" y="216.4" width="10.2" height="4.6"/>
<line class="o" x1="866.6" y1="221" x2="883.4" y2="221"/>
<path class="o" d="M852.4,240.5 C854,231 862,221.4 875.6,221.4 C889,221.4 896.6,231 898,240.5"/>
<path class="o" d="M858.4,221.6 Q851,224 849.6,227.4 Q847.4,233 848,238.4 L834.5,243.4 L817.4,249.6"/>
<path class="t" d="M853.4,225.6 Q856.6,226.2 855.4,230 Q853.6,236 851,239.6"/>
<path class="o" d="M891.8,221.6 Q899,223.6 900.6,227.4 Q902.6,233 902,238.4 L915.6,243.4 L932.8,249.6"/>
<path class="t" d="M897.4,225.6 Q894.2,226.2 895.4,230 Q897.2,236 899.8,239.6"/>
<line class="t" x1="816" y1="232.4" x2="848.6" y2="232.4"/>
<line class="t" x1="903.4" y1="233.3" x2="934.3" y2="233.3"/>
<path class="o" d="M817.4,253.4 Q875.4,231.6 934,253.4"/>
<line class="o" x1="816" y1="229.2" x2="816" y2="322"/>
<line class="o" x1="934.3" y1="233.3" x2="934.3" y2="322"/>
<path class="o" d="M834.5,250.6 L835.8,253.4 L842,254.6 Q846.4,255.4 846.4,259 Q846.4,262.8 842,263.2 L836.5,263.4"/>
<line class="t" x1="837" y1="259" x2="846" y2="259"/>
<line class="t" x1="841.5" y1="255.6" x2="841.5" y2="262.6"/>
<path class="t" d="M836.5,263.4 Q826,268 817.4,275 Q811.6,280 811,287.4"/>
<path class="t" d="M914,262.6 Q926,268 932,274.6 Q938,281 938.6,287.4"/>
<circle class="bo" cx="908.8" cy="258.6" r="2.8"/>
<line class="t" x1="903.4" y1="253.4" x2="914.6" y2="264.6"/>
<line class="t" x1="904" y1="262" x2="913.6" y2="255"/>
<circle class="h2" cx="875.4" cy="292.4" r="37.5"/>
<circle class="h" cx="875.4" cy="292.4" r="16.8"/>
<circle class="t" cx="875.4" cy="292.4" r="13"/>
<circle class="h" cx="875.4" cy="292.4" r="9.5"/>
<rect class="t" x="873" y="281.6" width="5" height="5" rx="1"/>
<path class="o" d="M811,287.6 H821.2 A5.7,5.7 0 0 1 821.2,299 H811"/>
<line class="t" x1="821.2" y1="285.4" x2="821.2" y2="301"/>
<path class="o" d="M940,287.6 H929.2 A5.7,5.7 0 0 0 929.2,299 H940"/>
<line class="t" x1="929.2" y1="285.4" x2="929.2" y2="301"/>
<path class="t" d="M811,299 Q811.4,305 816,309 Q826,316 834.5,322"/>
<path class="t" d="M940,299 Q939.6,305 934.4,309 Q926,315 916,322"/>
<path class="o" d="M834.5,322 L841,323.2 Q845.6,323.6 845.6,327 Q845.6,330.6 841,331.6 L834.5,333.4"/>
<line class="t" x1="836.4" y1="327" x2="846.4" y2="327"/>
<line class="t" x1="838" y1="322.6" x2="846" y2="332.6"/>
<line class="t" x1="836.6" y1="331.8" x2="846" y2="322.8"/>
<path class="o" d="M916,322 L909.6,323.2 Q905.2,323.6 905.2,327 Q905.2,330.6 909.6,331.6 L915.4,331.6"/>
<line class="t" x1="904.4" y1="327" x2="914.4" y2="327"/>
<line class="t" x1="909.2" y1="322.6" x2="909.2" y2="331.6"/>
<path class="o" d="M816,322 V328 Q816.6,333.4 821.8,336 L843,343.6 Q846,344.8 849,344.8 H902 Q905,344.8 908,343.6 L929,336 Q934,333.4 934.3,328 V322"/>
<path class="t" d="M818,327 Q846,341.6 875.4,342.2 Q905,341.6 932.4,327"/>
<path class="o" d="M859.4,344.8 L860.6,350 Q861,351.8 863.8,351.8 H886 Q888.6,351.8 889.2,350 L890,344.8"/>
<line class="h" x1="863.8" y1="352.4" x2="1003" y2="352.4"/>
<line class="t" x1="1003" y1="352.4" x2="1029" y2="352.4"/>
<path class="o" d="M807.8,258 H800.4 V319.6 H807.8"/>
<line class="h" x1="807.8" y1="257.6" x2="807.8" y2="320.6"/>
<line class="t" x1="807.8" y1="257.6" x2="816" y2="257.6"/>
<line class="t" x1="807.8" y1="320.6" x2="816" y2="320.6"/>
<path class="o" d="M934.3,257.6 H946.6 V319.6 H934.3"/>
<line class="t" x1="941.4" y1="257.6" x2="941.4" y2="319.6"/>
<rect class="o" x="800.6" y="262" width="3" height="8" rx="1.2"/>
<line class="t" x1="799" y1="266" x2="805" y2="266"/>
<rect class="o" x="946.6" y="262" width="3.2" height="8" rx="1.2"/>
<line class="t" x1="945" y1="266" x2="951.4" y2="266"/>
<rect class="o" x="800.6" y="285" width="3" height="8" rx="1.2"/>
<line class="t" x1="799" y1="289" x2="805" y2="289"/>
<rect class="o" x="946.6" y="285" width="3.2" height="8" rx="1.2"/>
<line class="t" x1="945" y1="289" x2="951.4" y2="289"/>
<rect class="o" x="800.6" y="308" width="3" height="8" rx="1.2"/>
<line class="t" x1="799" y1="312" x2="805" y2="312"/>
<rect class="o" x="946.6" y="308" width="3.2" height="8" rx="1.2"/>
<line class="t" x1="945" y1="312" x2="951.4" y2="312"/>
<line class="t" x1="796" y1="292.4" x2="1029" y2="292.4"/>
<line class="t" x1="875.4" y1="192" x2="875.4" y2="358"/>
<path class="t" d="M875.4,192.4 A100,100 0 0 1 944.6,219.6"/>
<polygon class="a" points="875.4,192.4 880.12,191.9 879.8,194.18"/>
<line class="t" x1="875.4" y1="292.4" x2="946.5" y2="219.5"/>
<line class="t" x1="943.2" y1="217.8" x2="949" y2="221.2"/>
<polyline class="t" points="1006,196.5 952.3,196.5 908.8,258.6 884.4,281.4"/>
<polyline class="t" points="883,282.2 769.3,438.4 831,438.4"/>
<polyline class="t" points="1010,156.6 920,156.6 877.4,214.6"/>
<line class="d" x1="1027" y1="173.3" x2="1027" y2="292.4"/>
<polygon class="a" points="1027,173.3 1028.15,177.9 1025.85,177.9"/>
<polygon class="a" points="1027,292.4 1025.85,287.8 1028.15,287.8"/>
<line class="d" x1="890.5" y1="213.4" x2="1005" y2="213.4"/>
<line class="d" x1="1003" y1="213.4" x2="1003" y2="292.4"/>
<polygon class="a" points="1003,213.4 1004.15,218 1001.85,218"/>
<polygon class="a" points="1003,292.4 1001.85,287.8 1004.15,287.8"/>
<line class="d" x1="1003" y1="292.4" x2="1003" y2="352.4"/>
<polygon class="a" points="1003,292.4 1004.15,297 1001.85,297"/>
<polygon class="a" points="1003,352.4 1001.85,347.8 1004.15,347.8"/>
<line class="d" x1="1027" y1="292.4" x2="1027" y2="352.4"/>
<polygon class="a" points="1027,292.4 1028.15,297 1025.85,297"/>
<polygon class="a" points="1027,352.4 1025.85,347.8 1028.15,347.8"/>
<line class="d" x1="948" y1="287" x2="982" y2="287"/>
<line class="d" x1="948" y1="297.6" x2="982" y2="297.6"/>
<line class="d" x1="979.6" y1="263.8" x2="979.6" y2="311"/>
<polygon class="a" points="979.6,287 978.45,282.4 980.75,282.4"/>
<polygon class="a" points="979.6,297.6 980.75,302.2 978.45,302.2"/>
<line class="d" x1="821.2" y1="304" x2="821.2" y2="391.4"/>
<line class="d" x1="929" y1="304" x2="929" y2="391.4"/>
<line class="d" x1="821.2" y1="388.6" x2="929" y2="388.6"/>
<polygon class="a" points="821.2,388.6 825.8,387.45 825.8,389.75"/>
<polygon class="a" points="929,388.6 924.4,389.75 924.4,387.45"/>
<line class="d" x1="800" y1="318.6" x2="800" y2="414.6"/>
<line class="d" x1="949.6" y1="318.6" x2="949.6" y2="414.6"/>
<line class="d" x1="800" y1="412" x2="949.6" y2="412"/>
<polygon class="a" points="800,412 804.6,410.85 804.6,413.15"/>
<polygon class="a" points="949.6,412 945,413.15 945,410.85"/>
</g>
<g id="labels" filter="url(#soft)">
<text class="k" transform="translate(150 127)" font-size="12.7">组合控制阀</text>
<text class="k" transform="translate(84.6 444)" font-size="12.7">进油口</text>
<text class="n" transform="translate(84.6 465.4)" font-size="11.4">1½</text>
<text class="k" transform="translate(107.2 465.6)" font-size="12.3">分隔</text>
<text class="k" transform="translate(86 480)" font-size="12.7">法兰凸缘</text>
<text class="n" transform="translate(82 492.6)" font-size="11.6" textLength="65.5" lengthAdjust="spacingAndGlyphs">(SAE  J518)</text>
<text class="k" transform="translate(241.4 445.4)" font-size="12.7">出油口</text>
<text class="n" transform="translate(238.4 466)" font-size="11.4">1½</text>
<text class="k" transform="translate(263.2 466.2)" font-size="12.3">分隔</text>
<text class="k" transform="translate(242 480.4)" font-size="12.7">法兰凸缘</text>
<text class="n" transform="translate(235.8 493)" font-size="11.6" textLength="65.5" lengthAdjust="spacingAndGlyphs">(SAE  J518)</text>
<text class="n" transform="translate(193.7 389.8) scale(1.1 1)" font-size="11.7" text-anchor="middle">208</text>
<text class="n" transform="translate(233.4 416.2) scale(1.1 1)" font-size="11.7" text-anchor="middle">135</text>
<text class="k" transform="translate(266 117)" font-size="12.8">流量调节螺钉</text>
<text class="k" transform="translate(303 135.4)" font-size="12.3" text-anchor="middle">( 小容量 )</text>
<text class="k" transform="translate(266 150)" font-size="12.8">流量调节螺钉</text>
<text class="k" transform="translate(303 168.6)" font-size="12.3" text-anchor="middle">( 大容量 )</text>
<text class="n" transform="translate(488.6 135.2) scale(1.1 1)" font-size="11.7" text-anchor="middle">418</text>
<text class="k" transform="translate(571.6 104.6)" font-size="12.7">泄油口</text>
<text class="n" transform="translate(653 105.6) scale(1.1 1)" font-size="11.6">Rc<tspan font-size="13">¾</tspan></text>
<text class="n" transform="translate(637 153.2) scale(1.1 1)" font-size="11.7" text-anchor="middle">57</text>
<text class="n" transform="translate(599.6 182) scale(1.1 1)" font-size="11.7" text-anchor="middle">73</text>
<text class="n" transform="translate(645 182) scale(1.1 1)" font-size="11.7" text-anchor="middle">10</text>
<text class="n" transform="translate(359.6 268.4) rotate(-90) scale(1.1 1)" font-size="11.7" text-anchor="middle">83</text>
<text class="n" transform="translate(418.2 292.6) rotate(-90) scale(1.1 1)" font-size="11.7" text-anchor="middle">69.9</text>
<text class="n" transform="translate(364.4 363)" font-size="11.5" textLength="23.4" lengthAdjust="spacingAndGlyphs"><tspan font-style="italic" font-size="11">ϕ</tspan> 40</text>
<text class="k" transform="translate(381.4 378)" font-size="11.8" text-anchor="middle">( 2处 )</text>
<text class="n" transform="translate(325.4 396)" font-size="11.3" textLength="62.4" lengthAdjust="spacingAndGlyphs">M12  P1.75</text>
<text class="k" transform="translate(321 414.6)" font-size="12.5" textLength="92.4" lengthAdjust="spacingAndGlyphs">有效螺纹深度20</text>
<text class="n" transform="translate(498.6 387.2) scale(1.1 1)" font-size="11.7" text-anchor="middle">35.7</text>
<text class="n" transform="translate(598.8 387.2) scale(1.1 1)" font-size="11.7" text-anchor="middle">73</text>
<text class="n" transform="translate(544.6 405) scale(1.1 1)" font-size="11.7" text-anchor="middle">256.5</text>
<text class="n" transform="translate(531.4 422.6) scale(1.1 1)" font-size="11.7" text-anchor="middle">300</text>
<text class="n" transform="translate(640.2 369.2) scale(1.1 1)" font-size="11.7" text-anchor="middle">18.5</text>
<text class="n" transform="translate(597.2 296.4) rotate(-90) scale(1.1 1)" font-size="11.6"><tspan font-style="italic" font-size="9">ϕ</tspan>32</text>
<text class="n" transform="translate(684.2 398.6) rotate(-90)" font-size="11.6"><tspan font-style="italic" font-size="10.5">ϕ</tspan></text>
<text class="n" transform="translate(684.2 388.8) rotate(-90) scale(1.16 1)" font-size="11.6">31.75</text>
<text class="n" transform="translate(679.2 351.6) rotate(-90) scale(1.2 1)" font-size="6.4">0</text>
<text class="n" transform="translate(688.2 354.6) rotate(-90) scale(1.3 1)" font-size="6.4">-0.05</text>
<text class="n" transform="translate(709.6 389.4) rotate(-90) scale(1.06 1)" font-size="11.6">35.35</text>
<text class="n" transform="translate(702.2 352.4) rotate(-90) scale(1.2 1)" font-size="6.4">0</text>
<text class="n" transform="translate(711.6 356.4) rotate(-90) scale(1.3 1)" font-size="6.4">-0.2</text>
<text class="n" transform="translate(731.8 386.4) rotate(-90)" font-size="11.6"><tspan font-style="italic" font-size="10.5">ϕ</tspan></text>
<text class="n" transform="translate(731.8 378.6) rotate(-90) scale(1.09 1)" font-size="11.6">127.00</text>
<text class="n" transform="translate(750 386.4) rotate(-90)" font-size="11.6"><tspan font-style="italic" font-size="10.5">ϕ</tspan></text>
<text class="n" transform="translate(750 378.6) rotate(-90) scale(1.09 1)" font-size="11.6">126.95</text>
<text class="k" transform="translate(695 106.4)" font-size="13.1" textLength="102.4" lengthAdjust="spacingAndGlyphs">低压调节螺钉(PL)</text>
<text class="k" transform="translate(681.6 122.6)" font-size="10.6" textLength="76.4" lengthAdjust="spacingAndGlyphs">内六角扳手孔：8</text>
<text class="k" transform="translate(681.6 139)" font-size="10.6" textLength="101" lengthAdjust="spacingAndGlyphs">锁紧螺母六角平头：32</text>
<text class="k" transform="translate(689.4 158.4)" font-size="13.1" textLength="104" lengthAdjust="spacingAndGlyphs">高压调节螺钉(PH)</text>
<text class="k" transform="translate(681.6 174)" font-size="10.6" textLength="76.4" lengthAdjust="spacingAndGlyphs">内六角扳手孔：8</text>
<text class="k" transform="translate(681.6 190)" font-size="10.6" textLength="101" lengthAdjust="spacingAndGlyphs">锁紧螺母六角平头：32</text>
<rect class="t" x="673" y="202.2" width="9.8" height="9.8"/>
<text class="n" transform="translate(684.6 211.6) scale(1.04 1)" font-size="12.5">7.94</text>
<text class="n" transform="translate(709.8 207.2) scale(1.7 1)" font-size="8.6">+</text>
<text class="n" transform="translate(709.8 214) scale(1.7 1)" font-size="8.6">+</text>
<text class="n" transform="translate(719 206)" font-size="6.4" textLength="23.5" lengthAdjust="spacingAndGlyphs">0.030</text>
<text class="n" transform="translate(719 213)" font-size="6.4" textLength="23.5" lengthAdjust="spacingAndGlyphs">0.015</text>
<text class="n" transform="translate(743.4 211.6) scale(1.04 1)" font-size="12.5">x38</text>
<text class="n" transform="translate(850.8 101) scale(1.1 1)" font-size="11.7" text-anchor="middle">82</text>
<text class="n" transform="translate(808 141.2) scale(1.1 1)" font-size="11.7" text-anchor="middle">8</text>
<text class="k" transform="translate(944 152.6)" font-size="12.9">机体注油口</text>
<text class="n" transform="translate(903.6 191.4) rotate(16) scale(1.04 1)" font-size="12" font-style="italic">45<tspan font-size="9" dy="-3" dx="1.5" letter-spacing="0.9">±0.5</tspan></text>
<text class="n" transform="translate(956 194) scale(1.04 1)" font-size="11.7"><tspan font-style="italic" font-size="11">ϕ</tspan> 15<tspan font-size="9" dy="-4.4" dx="1" letter-spacing="0.9">±0.4</tspan></text>
<text class="n" transform="translate(1024.2 233) rotate(-90) scale(1.1 1)" font-size="11.7" text-anchor="middle">204</text>
<text class="n" transform="translate(1000.2 253) rotate(-90) scale(1.1 1)" font-size="11.7" text-anchor="middle">134</text>
<text class="n" transform="translate(976.6 275.2) rotate(-90) scale(1.1 1)" font-size="11.7" text-anchor="middle">18</text>
<text class="n" transform="translate(1000.2 321) rotate(-90) scale(1.1 1)" font-size="11.7" text-anchor="middle">100</text>
<text class="n" transform="translate(1024.2 321) rotate(-90) scale(1.1 1)" font-size="11.7" text-anchor="middle">102</text>
<text class="n" transform="translate(875 385.6) scale(1.1 1)" font-size="11.7" text-anchor="middle">181</text>
<text class="n" transform="translate(874.8 409.6) scale(1.1 1)" font-size="11.7" text-anchor="middle">260.5</text>
<text class="n" transform="translate(789.6 437)" font-size="11.7" textLength="40" lengthAdjust="spacingAndGlyphs"><tspan font-style="italic" font-size="11">ϕ</tspan> 161.9</text>
</g>
<g id="watermark">
<text class="wm" transform="translate(522.5 326.5) rotate(-13.5)" font-size="24.6" textLength="296" lengthAdjust="spacing">上海台拓液压机械有限公司</text>
<text class="wm2" transform="translate(537.5 347.5) rotate(-12.5)" font-size="20.6" textLength="260" lengthAdjust="spacing">http://www.ttyytw.com</text>
</g>
</svg>
</body></html>
